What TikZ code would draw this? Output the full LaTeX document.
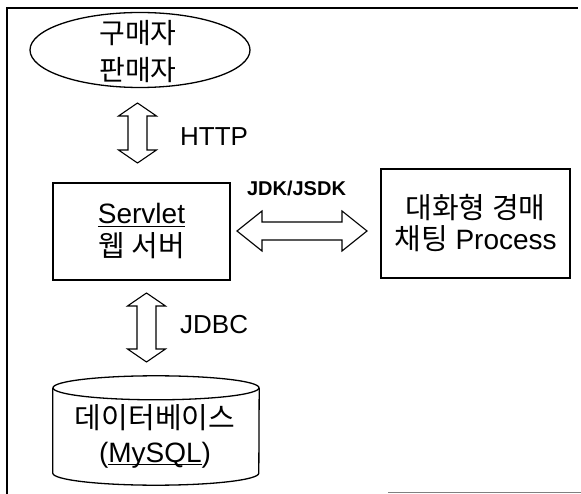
\documentclass[tikz,border=0pt]{standalone}
\usepackage{fontspec}
\setmainfont{Liberation Sans}
\newfontfamily\kr{Noto Sans CJK KR}
\usetikzlibrary{shapes.geometric}
\newcommand\myul[1]{\setbox0\hbox{#1}\rlap{\rule[-2.5pt]{\wd0}{0.9pt}}\box0}
\tikzset{
  stroke/.style={line width=1.3pt, draw=black},
  blockarrow/.style={line width=1.1pt, draw=black, fill=white, line join=miter},
  bigtext/.style={font=\fontsize{28}{33}\selectfont, align=center, inner sep=0pt},
  labeltext/.style={font=\fontsize{26}{30}\selectfont, inner sep=0pt},
}
\newcommand\vdarrow[2]{\draw[blockarrow] (#1) -- ([shift={(19,13)}]#1) -- ([shift={(9.5,13)}]#1) -- ([shift={(9.5,-13)}]#2) -- ([shift={(19,-13)}]#2) -- (#2) -- ([shift={(-19,-13)}]#2) -- ([shift={(-9.5,-13)}]#2) -- ([shift={(-9.5,13)}]#1) -- ([shift={(-19,13)}]#1) -- cycle;}
\newcommand\hdarrow[2]{\draw[blockarrow] (#1) -- ([shift={(25,-20)}]#1) -- ([shift={(25,-9)}]#1) -- ([shift={(-25,-9)}]#2) -- ([shift={(-25,-20)}]#2) -- (#2) -- ([shift={(-25,20)}]#2) -- ([shift={(-25,9)}]#2) -- ([shift={(25,9)}]#1) -- ([shift={(25,20)}]#1) -- cycle;}
\begin{document}
\begin{tikzpicture}[x=1pt,y=-1pt]
\useasboundingbox (0,0) rectangle (581,494);
\fill[white] (0,0) rectangle (581,494);
% frame
\draw[line width=1.6pt] (7,494) -- (7,8) -- (578,8);
\draw[line width=1.2pt, gray] (388,492.5) -- (581,492.5);
% nodes
\node[ellipse, stroke, minimum width=220pt, minimum height=75pt, inner sep=0pt] (buyer) at (140,50) {};
\node[bigtext, font=\fontsize{28}{37}\selectfont\kr] (buyertext) at (138,52) {구매자\\판매자};
\node[stroke, minimum width=177pt, minimum height=97pt, bigtext] (servlet) at (141.5,231.5)
  {\myul{Servlet}\\{\kr\fontsize{29}{33}\selectfont 웹 서버}};
\node[stroke, minimum width=189pt, minimum height=109pt, bigtext, font=\fontsize{28}{31}\selectfont] (process) at (475.5,223.5)
  {{\kr\fontsize{29}{31}\selectfont 대화형 경매}\\{\kr\fontsize{29}{31}\selectfont 채팅} Process};
\node[minimum width=206pt, minimum height=109pt, inner sep=0pt] (db) at (156,430.5) {};
\draw[stroke, fill=white] ([yshift=-12pt]db.north west) -- ([yshift=12pt]db.south west)
  arc[start angle=180, end angle=360, x radius=103pt, y radius=12pt]
  -- ([yshift=-12pt]db.north east);
\draw[stroke] ([yshift=-12pt]db.north) ellipse[x radius=103pt, y radius=12pt];
\node[bigtext, font=\fontsize{28}{34}\selectfont] (dbtext) at (155,436) {{\kr\fontsize{29}{34}\selectfont 데이터베이스}\\(\myul{MySQL})};
% connectors
\coordinate (h1) at (137.5,103);
\coordinate (h2) at (137.5,163);
\vdarrow{h1}{h2}
\node[labeltext, anchor=west] (http) at (180,137) {HTTP};
\coordinate (j1) at (146.5,293);
\coordinate (j2) at (146.5,362);
\vdarrow{j1}{j2}
\node[labeltext, anchor=west] (jdbc) at (180,325) {JDBC};
\coordinate (k1) at (237,231);
\coordinate (k2) at (367,231);
\hdarrow{k1}{k2}
\node[inner sep=0pt, font=\fontsize{20}{24}\selectfont\bfseries] (jdk) at (296.5,188) {JDK/JSDK};
\end{tikzpicture}
\end{document}
